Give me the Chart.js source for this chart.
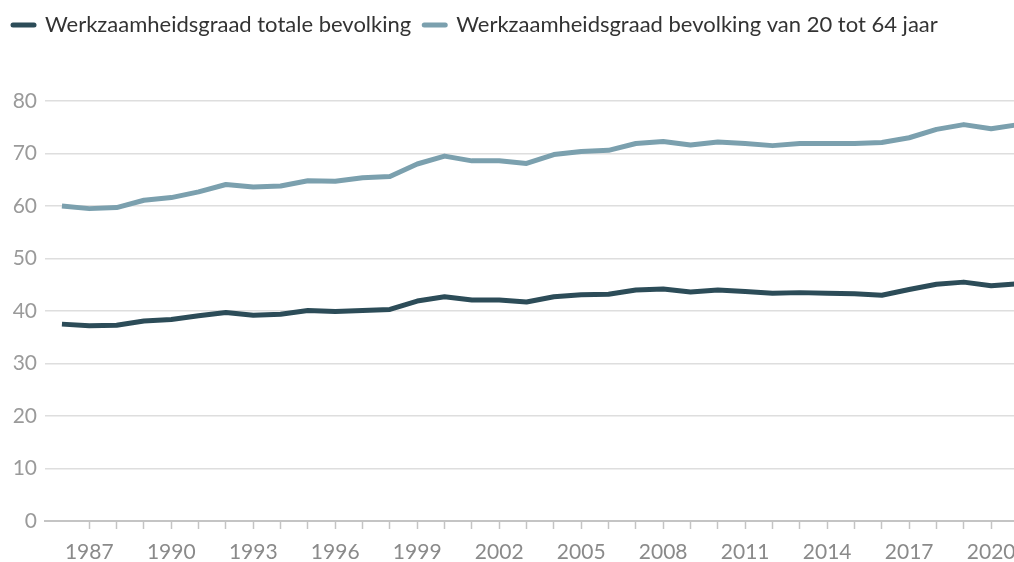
<!DOCTYPE html>
<html>
<head>
<meta charset="utf-8">
<script src="https://cdn.jsdelivr.net/npm/chart.js@4/dist/chart.umd.min.js"></script>
<style>
  html, body { margin: 0; padding: 0; background: #fff; overflow: hidden; }
</style>
</head>
<body>
<canvas id="chart" width="1060" height="562"></canvas>
<script>
// Years on the x axis
const years = [1986, 1987, 1988, 1989, 1990, 1991, 1992, 1993, 1994, 1995, 1996, 1997,
  1998, 1999, 2000, 2001, 2002, 2003, 2004, 2005, 2006, 2007, 2008, 2009,
  2010, 2011, 2012, 2013, 2014, 2015, 2016, 2017, 2018, 2019, 2020, 2021];

// Werkzaamheidsgraad (%)
const totaleBevolking = [37.5, 37.2, 37.3, 38.1, 38.4, 39.1, 39.7, 39.2, 39.4, 40.1, 39.9, 40.1,
  40.3, 41.9, 42.7, 42.1, 42.1, 41.7, 42.7, 43.1, 43.2, 44.0, 44.2, 43.6,
  44.0, 43.7, 43.4, 43.5, 43.4, 43.3, 43.0, 44.1, 45.1, 45.5, 44.8, 45.2];
const bevolking20tot64 = [60.0, 59.5, 59.7, 61.1, 61.6, 62.7, 64.1, 63.6, 63.8, 64.8, 64.7, 65.4,
  65.6, 68.0, 69.5, 68.6, 68.6, 68.1, 69.8, 70.4, 70.6, 71.9, 72.3, 71.6,
  72.2, 71.9, 71.5, 71.9, 71.9, 71.9, 72.1, 73.0, 74.6, 75.5, 74.7, 75.5];

const yTicks = [0, 10, 20, 30, 40, 50, 60, 70, 80];

const toPoints = (vals) => vals.map((v, i) => ({ x: years[i], y: v }));

// push the plot area down below the legend
const legendSpace = {
  id: 'legendSpace',
  beforeInit(chart) {
    const fit = chart.legend.fit;
    chart.legend.fit = function () {
      fit.bind(chart.legend)();
      this.height = 100;
    };
  }
};

new Chart(document.getElementById('chart'), {
  type: 'line',
  data: {
    datasets: [{
      label: 'Werkzaamheidsgraad totale bevolking',
      data: toPoints(totaleBevolking),
      borderColor: '#2c4c58',
      backgroundColor: '#2c4c58',
      borderWidth: 5,
      pointRadius: 0,
      borderJoinStyle: 'round',
      tension: 0
    }, {
      label: 'Werkzaamheidsgraad bevolking van 20 tot 64 jaar',
      data: toPoints(bevolking20tot64),
      borderColor: '#7ba0ae',
      backgroundColor: '#7ba0ae',
      borderWidth: 5,
      pointRadius: 0,
      borderJoinStyle: 'round',
      tension: 0
    }]
  },
  options: {
    responsive: false,
    animation: false,
    layout: { padding: { top: 1, left: 0, right: 0, bottom: 0 } },
    plugins: {
      tooltip: { enabled: false },
      legend: {
        align: 'start',
        labels: {
          color: '#333',
          font: { family: 'Lato', size: 22 },
          usePointStyle: true,
          pointStyle: 'line',
          pointStyleWidth: 21,
          boxHeight: 5,
          padding: 13,
          generateLabels(chart) {
            const items = Chart.defaults.plugins.legend.labels.generateLabels(chart);
            items.forEach(it => { it.lineWidth = 5; it.lineCap = 'round'; it.pointStyle = 'line'; });
            return items;
          }
        }
      }
    },
    scales: {
      x: {
        type: 'linear',
        min: 1985.38,
        max: 2022.52,
        afterFit(scale) { scale.height = 41; },
        border: { color: '#c4c4c4', width: 2 },
        grid: {
          drawOnChartArea: false,
          drawTicks: true,
          tickLength: 8,
          tickWidth: 1.5,
          tickColor: (ctx) => (ctx.tick && ctx.tick.value === 1986) ? 'rgba(0,0,0,0)' : '#c4c4c4'
        },
        ticks: {
          stepSize: 1,
          autoSkip: false,
          includeBounds: false,
          maxRotation: 0,
          padding: 11,
          color: '#8a8a8a',
          font: { family: 'Lato', size: 21 },
          callback: (v) => ((v - 1987) % 3 === 0 && v <= 2020) ? String(v) : ''
        }
      },
      y: {
        min: 0,
        max: 80,
        afterFit(scale) { scale.width = 45; },
        afterBuildTicks(scale) { scale.ticks = yTicks.map(v => ({ value: v })); },
        border: { display: false },
        grid: { color: '#dedede', lineWidth: 1.5, drawTicks: false },
        ticks: {
          padding: 8,
          color: '#9a9a9a',
          font: { family: 'Lato', size: 21 }
        }
      }
    }
  },
  plugins: [legendSpace]
});
</script>
</body>
</html>
